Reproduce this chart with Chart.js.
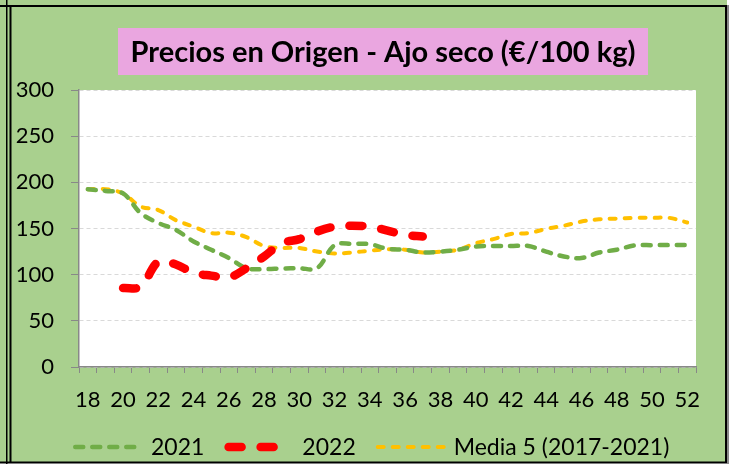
<!DOCTYPE html>
<html>
<head>
<meta charset="utf-8">
<script src="https://cdn.jsdelivr.net/npm/chart.js@4"></script>
<style>
  html, body { margin: 0; padding: 0; background: #ffffff; }
  #wrap { width: 734px; height: 464px; }
</style>
</head>
<body>
<div id="wrap"><canvas id="myChart" width="734" height="464"></canvas></div>
<script>
const weeks = [18, 19, 20, 21, 22, 23, 24, 25, 26, 27, 28, 29, 30, 31, 32, 33, 34, 35,
    36, 37, 38, 39, 40, 41, 42, 43, 44, 45, 46, 47, 48, 49, 50, 51, 52]
const precios2021 = [192.6, 190.7, 188, 166.6, 156, 148.5, 136, 127, 118, 107, 106, 106.7,
    107, 107, 132, 133.4, 133, 128, 127, 124, 125, 127, 130.5, 131, 131, 131, 125, 119.7,
    118, 124, 127, 131.6, 132, 132, 132]
const precios2022 = [null, null, 85.5, 87, 114, 111, 102, 99, 97, 107, 119.7, 134, 138.5,
    146.7, 152, 153, 152, 147.8, 143, 141.3, null, null, null, null, null, null, null, null,
    null, null, null, null, null, null, null]
const media5 = [192.6, 192.6, 188, 173.8, 170, 159, 152, 145, 145.5, 140.7, 131, 129, 129,
    125, 123, 124, 126, 127.5, 127, 124, 125, 127, 134, 138.5, 144, 145, 149.6, 153, 157.5,
    160, 160.7, 161.5, 161.5, 161.5, 156.5]
const seriesNames = ["2021", "2022", "Media 5 (2017-2021)"]
const yTicks = [0, 50, 100, 150, 200, 250, 300]
const titleText = "Precios en Origen - Ajo seco (€/100 kg)"

const fontFamily = "Lato, 'Open Sans', sans-serif"

// background, borders and white plot area
const framePlugin = {
    id: "frame",
    beforeDraw(chart) {
        const ctx = chart.ctx
        const area = chart.chartArea
        ctx.save()
        ctx.fillStyle = "#a9d08e"
        ctx.fillRect(0, 0, 727, 462)
        ctx.fillStyle = "#ffffff"
        ctx.fillRect(area.left, area.top, area.right - area.left, area.bottom - area.top)
        ctx.fillStyle = "#000000"
        ctx.fillRect(0, 5, 727, 2)
        ctx.fillRect(6, 0, 1.5, 464)
        ctx.fillRect(9.5, 5, 2, 458)
        ctx.fillRect(725, 5, 2, 458)
        ctx.fillRect(0, 461.5, 727, 2)
        ctx.fillStyle = "#8a8a8a"
        ctx.fillRect(727, 5, 2, 459)
        ctx.restore()
    },
    afterDraw(chart) {
        const ctx = chart.ctx
        ctx.save()
        // title box
        ctx.fillStyle = "#eaa6e0"
        ctx.fillRect(118, 28, 530, 47)
        let size = 29
        ctx.font = `bold ${size}px ${fontFamily}`
        while (ctx.measureText(titleText).width > 508 && size > 16) {
            size -= 0.5
            ctx.font = `bold ${size}px ${fontFamily}`
        }
        ctx.fillStyle = "#000000"
        ctx.textAlign = "center"
        ctx.textBaseline = "middle"
        ctx.fillText(titleText, 383, 53)

        // legend
        ctx.font = `23px ${fontFamily}`
        ctx.textAlign = "left"
        let x = 73
        const y = 447
        chart.data.datasets.forEach((ds) => {
            ctx.save()
            ctx.strokeStyle = ds.borderColor
            ctx.lineWidth = ds.borderWidth
            ctx.lineCap = "round"
            ctx.setLineDash(ds.borderDash)
            ctx.beginPath()
            ctx.moveTo(x + ds.borderWidth / 2, y)
            ctx.lineTo(x + 72 - ds.borderWidth / 2, y)
            ctx.stroke()
            ctx.restore()
            x += 78
            ctx.fillStyle = "#000000"
            ctx.fillText(ds.label, x, y + 1)
            x += ctx.measureText(ds.label).width + 20
        })
        ctx.restore()
    }
}

const chart = new Chart(document.getElementById("myChart"), {
    type: "line",
    data: {
        labels: weeks,
        datasets: [{
            label: seriesNames[0],
            data: precios2021,
            borderColor: "#70ad47",
            borderWidth: 4.5,
            borderDash: [8, 9],
            borderCapStyle: "round",
            order: 2
        }, {
            label: seriesNames[1],
            data: precios2022,
            borderColor: "#ff0000",
            borderWidth: 8.5,
            borderDash: [13, 19],
            borderCapStyle: "round",
            order: 1
        }, {
            label: seriesNames[2],
            data: media5,
            borderColor: "#ffc000",
            borderWidth: 4,
            borderDash: [6, 9],
            borderCapStyle: "round",
            order: 3
        }]
    },
    options: {
        responsive: false,
        animation: false,
        layout: { padding: { left: 0, right: 38, top: 90, bottom: 0 } },
        elements: {
            point: { radius: 0 },
            line: { tension: 0.35, fill: false }
        },
        plugins: {
            legend: { display: false },
            title: { display: false },
            tooltip: { enabled: false }
        },
        scales: {
            x: {
                type: "category",
                offset: true,
                afterFit: (scale) => { scale.height = 97 },
                grid: {
                    offset: true,
                    drawOnChartArea: false,
                    tickLength: 6,
                    tickColor: "#888888"
                },
                border: { color: "#888888", width: 1.5 },
                ticks: {
                    autoSkip: false,
                    maxRotation: 0,
                    color: "#000000",
                    padding: 14,
                    font: { family: fontFamily, size: 22 },
                    callback: (value, index) => index % 2 === 0 ? String(weeks[index]) : ""
                }
            },
            y: {
                min: 0,
                max: 300,
                afterFit: (scale) => { scale.width = 79 },
                afterBuildTicks: (scale) => { scale.ticks = yTicks.map((v) => ({ value: v })) },
                grid: {
                    color: "#d9d9d9",
                    tickLength: 8,
                    tickColor: "#888888",
                    tickBorderDash: []
                },
                border: { color: "#888888", width: 1.5, dash: [4, 3] },
                ticks: {
                    color: "#000000",
                    padding: 17,
                    font: { family: fontFamily, size: 22 }
                }
            }
        }
    },
    plugins: [framePlugin]
})
</script>
</body>
</html>
